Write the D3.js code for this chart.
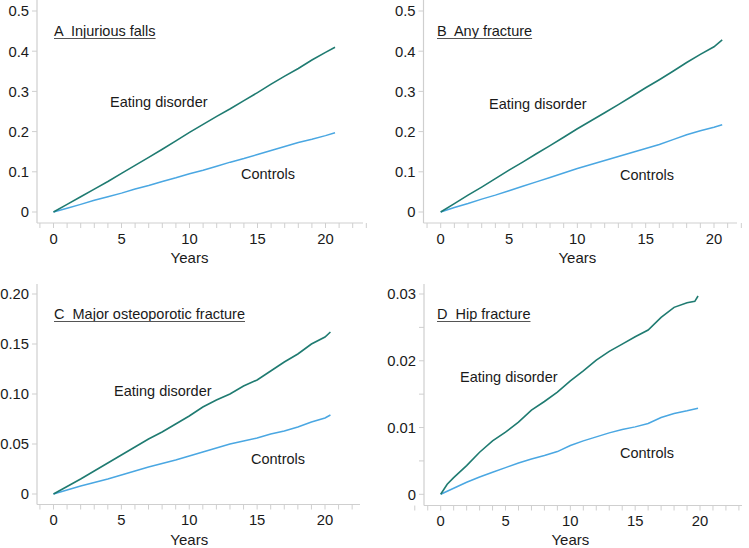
<!DOCTYPE html>
<html><head><meta charset="utf-8">
<script src="https://cdn.jsdelivr.net/npm/d3@7"></script>
<style>
html,body{margin:0;padding:0;background:#fff;}
svg{display:block;font-family:"Liberation Sans",Arial,Helvetica,sans-serif;}
text{white-space:pre;}
</style></head>
<body><svg id="c" width="749" height="548"></svg>
<script>
// ---------- data ----------
const panelTitles = ["A  Injurious falls","B  Any fracture","C  Major osteoporotic fracture","D  Hip fracture"];
const seriesNames = ["Eating disorder","Controls"];

const yearsA = [0,1,2,3,4,5,6,7,8,9,10,11,12,13,14,15,16,17,18,19,20,20.7];
const edA   = [0,0.019,0.038,0.057,0.076,0.096,0.116,0.136,0.156,0.177,0.198,0.218,0.238,0.257,0.277,0.297,0.318,0.338,0.357,0.378,0.397,0.410];
const ctlA  = [0,0.0095,0.019,0.029,0.038,0.047,0.057,0.066,0.076,0.085,0.095,0.104,0.114,0.124,0.133,0.143,0.153,0.163,0.173,0.181,0.190,0.197];

const yearsB = [0,1,2,3,4,5,6,7,8,9,10,11,12,13,14,15,16,17,18,19,20,20.6];
const edB   = [0,0.021,0.042,0.062,0.083,0.104,0.124,0.145,0.165,0.186,0.207,0.227,0.247,0.267,0.288,0.309,0.329,0.350,0.372,0.392,0.411,0.428];
const ctlB  = [0,0.011,0.021,0.032,0.042,0.053,0.064,0.075,0.086,0.097,0.108,0.118,0.128,0.138,0.148,0.158,0.168,0.180,0.192,0.202,0.211,0.217];

const yearsC = [0,1,2,3,4,5,6,7,8,9,10,11,12,13,14,15,16,17,18,19,20,20.4];
const edC   = [0,0.0075,0.015,0.023,0.031,0.039,0.047,0.055,0.062,0.070,0.078,0.087,0.094,0.100,0.108,0.114,0.123,0.132,0.140,0.150,0.157,0.162];
const ctlC  = [0,0.004,0.008,0.0115,0.015,0.019,0.023,0.027,0.0305,0.034,0.038,0.042,0.046,0.050,0.053,0.056,0.060,0.063,0.067,0.072,0.076,0.079];

const yearsDed = [0,0.5,1,2,3,4,5,6,7,8,9,10,11,12,13,14,15,16,17,18,19,19.6,19.85];
const edD      = [0,0.0015,0.0025,0.0043,0.0063,0.0080,0.0093,0.0108,0.0126,0.0139,0.0153,0.0170,0.0185,0.0201,0.0214,0.0225,0.0236,0.0246,0.0265,0.0280,0.0287,0.0289,0.0297];
const yearsDctl = [0,1,2,3,4,5,6,7,8,9,10,11,12,13,14,15,16,17,18,19,19.85];
const ctlD      = [0,0.0009,0.0018,0.0026,0.0033,0.0040,0.0047,0.0053,0.0058,0.0064,0.0073,0.0080,0.0086,0.0092,0.0097,0.0101,0.0106,0.0115,0.0121,0.0125,0.0129];

const xTickLabels = [0,5,10,15,20];
const yTicksA = [0,0.1,0.2,0.3,0.4,0.5];
const yTicksB = [0,0.1,0.2,0.3,0.4,0.5];
const yTicksC = [0,0.05,0.10,0.15,0.20];
const yTicksD = [0,0.01,0.02,0.03];
const yMinorD = [0.005,0.015,0.025];

// ---------- layout ----------
const svg = d3.select("#c");
const ED_COLOR = "#1f7b71", CTL_COLOR = "#4aa7e2", AXIS = "#cfcfcf", TXT = "#1a1a1a";
const FS = 14.5, TFS = 14.8;

const panels = [
  {title:panelTitles[0], ed:[yearsA,edA], ctl:[yearsA,ctlA], yt:yTicksA, yfmt:d=>d===0?"0":d3.format(".1f")(d), ymin:[],
   ax:37, ay:223, axEnd:363, ayTop:0, x0:53.5, x20:325.5, y0:212, yTopV:0.5, yTop:11, tmin:-1, tmax:23,
   title_xy:[54,36], ed_xy:[110,107], ctl_xy:[241,179], yearsY:263},
  {title:panelTitles[1], ed:[yearsB,edB], ctl:[yearsB,ctlB], yt:yTicksB, yfmt:d=>d===0?"0":d3.format(".1f")(d), ymin:[],
   ax:423.5, ay:223, axEnd:737, ayTop:0, x0:440.7, x20:714, y0:212, yTopV:0.5, yTop:11, tmin:-1, tmax:23,
   title_xy:[437,36], ed_xy:[489,109], ctl_xy:[620,180], yearsY:263},
  {title:panelTitles[2], ed:[yearsC,edC], ctl:[yearsC,ctlC], yt:yTicksC, yfmt:d=>d===0?"0":d3.format(".2f")(d), ymin:[],
   ax:37, ay:504.5, axEnd:360, ayTop:284, x0:53.5, x20:325, y0:494, yTopV:0.20, yTop:294, tmin:-1, tmax:22,
   title_xy:[54,319], ed_xy:[114,396], ctl_xy:[251,464], yearsY:545},
  {title:panelTitles[3], ed:[yearsDed,edD], ctl:[yearsDctl,ctlD], yt:yTicksD, yfmt:d=>d===0?"0":d3.format(".2f")(d), ymin:yMinorD,
   ax:424, ay:505.5, axEnd:742, ayTop:284, x0:440.7, x20:700, y0:494.3, yTopV:0.03, yTop:294, tmin:-2, tmax:23,
   title_xy:[437,319], ed_xy:[460,382], ctl_xy:[620,458], yearsY:545}
];

panels.forEach(p => {
  const g = svg.append("g");
  const x = d3.scaleLinear().domain([0,20]).range([p.x0,p.x20]);
  const y = d3.scaleLinear().domain([0,p.yTopV]).range([p.y0,p.yTop]);

  // axis lines
  g.append("line").attr("x1",p.ax).attr("x2",p.ax).attr("y1",p.ayTop).attr("y2",p.ay)
    .attr("stroke",AXIS).attr("stroke-width",1.2);
  g.append("line").attr("x1",p.ax).attr("x2",p.axEnd).attr("y1",p.ay).attr("y2",p.ay)
    .attr("stroke",AXIS).attr("stroke-width",1.2);

  // x ticks every year
  const xt = d3.range(p.tmin, p.tmax+1);
  g.selectAll(null).data(xt).join("line")
    .attr("x1",d=>x(d)).attr("x2",d=>x(d)).attr("y1",p.ay).attr("y2",p.ay+5)
    .attr("stroke",AXIS).attr("stroke-width",1);
  g.selectAll(null).data(xTickLabels).join("text")
    .attr("x",d=>x(d)).attr("y",p.ay+20.5).attr("text-anchor","middle")
    .attr("font-size",TFS).attr("fill",TXT).text(d=>d);
  g.append("text").attr("x",x(10)).attr("y",p.yearsY).attr("text-anchor","middle")
    .attr("font-size",FS+0.5).attr("fill",TXT).text("Years");

  // y ticks
  g.selectAll(null).data(p.yt.concat(p.ymin)).join("line")
    .attr("x1",p.ax-5).attr("x2",p.ax).attr("y1",d=>y(d)).attr("y2",d=>y(d))
    .attr("stroke",AXIS).attr("stroke-width",1);
  g.selectAll(null).data(p.yt).join("text")
    .attr("x",p.ax-8).attr("y",d=>y(d)).attr("dy","0.36em").attr("text-anchor","end")
    .attr("font-size",TFS).attr("fill",TXT).text(p.yfmt);

  // lines
  const line = d3.line().x(d=>x(d[0])).y(d=>y(d[1])).curve(d3.curveLinear);
  const ctlData = d3.zip(p.ctl[0], p.ctl[1]);
  const edData = d3.zip(p.ed[0], p.ed[1]);
  g.append("path").datum(ctlData).attr("d",line).attr("fill","none")
    .attr("stroke",CTL_COLOR).attr("stroke-width",1.5);
  g.append("path").datum(edData).attr("d",line).attr("fill","none")
    .attr("stroke",ED_COLOR).attr("stroke-width",1.6);

  // title (underlined)
  const t = g.append("text").attr("x",p.title_xy[0]).attr("y",p.title_xy[1])
    .attr("font-size",FS).attr("fill",TXT).attr("xml:space","preserve").text(p.title);
  const w = t.node().getComputedTextLength();
  g.append("line").attr("x1",p.title_xy[0]).attr("x2",p.title_xy[0]+w)
    .attr("y1",p.title_xy[1]+2.5).attr("y2",p.title_xy[1]+2.5)
    .attr("stroke","#555").attr("stroke-width",1.2);

  // series labels
  g.append("text").attr("x",p.ed_xy[0]).attr("y",p.ed_xy[1])
    .attr("font-size",FS).attr("fill",TXT).text(seriesNames[0]);
  g.append("text").attr("x",p.ctl_xy[0]).attr("y",p.ctl_xy[1])
    .attr("font-size",FS).attr("fill",TXT).text(seriesNames[1]);
});
</script>
</body></html>
